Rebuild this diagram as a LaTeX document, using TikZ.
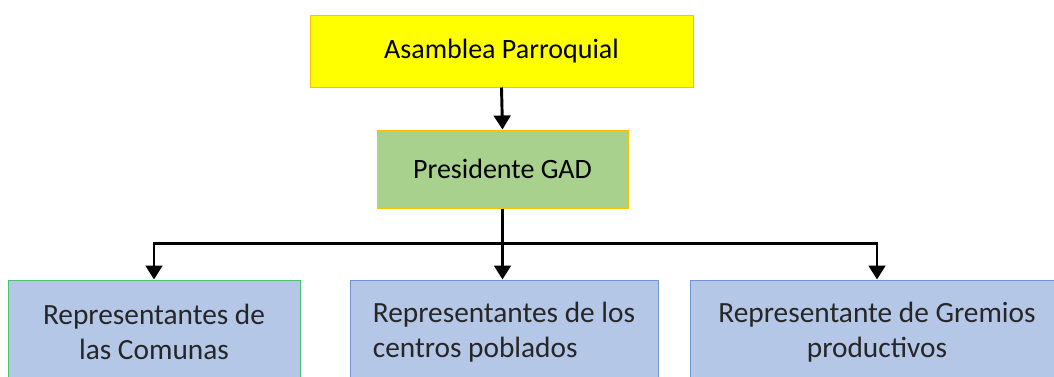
\documentclass[tikz,border=0pt]{standalone}
\usepackage{fontspec}
\setmainfont{Carlito}
\definecolor{gadyellow}{RGB}{255,255,0}
\definecolor{gadgold}{RGB}{255,192,0}
\definecolor{gadgreen}{RGB}{169,209,142}
\definecolor{gadblue}{RGB}{180,199,231}
\definecolor{gadedge}{RGB}{114,147,212}
\definecolor{gadmint}{RGB}{70,195,115}
\usetikzlibrary{arrows.meta,positioning}

\begin{document}
\begin{tikzpicture}[
  x=0.75pt,y=-0.75pt,
  head/.style={draw=gadgold,line width=0.75pt,font=\fontsize{21}{26}\selectfont,align=center},
  member/.style={draw=gadedge,fill=gadblue,line width=0.75pt,minimum height=78pt,
    text=black!85,font=\fontsize{22}{26.5}\selectfont},
  link/.style={line width=2.2pt,-{Triangle[width=12.5pt,length=10.5pt]}}
]
  \useasboundingbox (0,0) rectangle (1054,376);
  \clip (0,0) rectangle (1054,376);

  % Top
  \node[head,fill=gadyellow,minimum width=287.25pt,minimum height=54pt] (asamblea) at (501.5,51) {Asamblea Parroquial};
  \node[head,fill=gadgreen,minimum width=188.25pt,minimum height=58.5pt] (presidente) at (502.5,169) {Presidente GAD};
  \draw[link] (asamblea.south) -- (presidente.north);

  % Representantes
  \node[member,draw=gadmint,minimum width=219pt,align=center] (comunas) at (154,332) {Representantes de\\las Comunas};
  \node[member,minimum width=231pt,align=left] (centros) at (504,332) {Representantes de los\\centros poblados};
  \node[member,minimum width=280.5pt,align=center] (gremios) at (877,332) {Representante de Gremios\\productivos};

  \draw[line width=2.2pt] (presidente.south) -- ++(0,35) coordinate (bus);
  \draw[link] (bus) -| (comunas.north);
  \draw[link] (bus) -- (bus |- centros.north);
  \draw[link] (bus) -| (gremios.north);
\end{tikzpicture}
\end{document}
